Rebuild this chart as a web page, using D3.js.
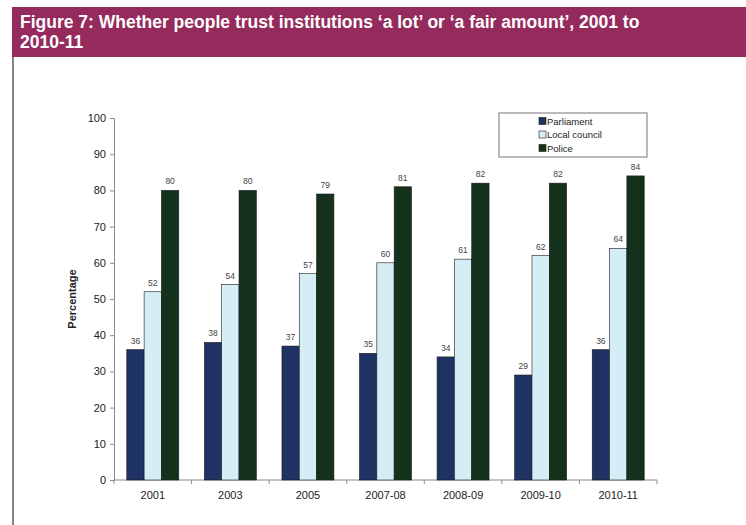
<!DOCTYPE html>
<html>
<head>
<meta charset="utf-8">
<script src="https://cdn.jsdelivr.net/npm/d3@7"></script>
<style>
  body { margin: 0; background: #fff; }
  svg { display: block; font-family: "Liberation Sans", Arial, sans-serif; }
</style>
</head>
<body>
<div id="chart"></div>
<script>
// data
const categories = ['2001', '2003', '2005', '2007-08', '2008-09', '2009-10', '2010-11'];
const seriesNames = ['Parliament', 'Local council', 'Police'];
const parliament = [36, 38, 37, 35, 34, 29, 36];
const localCouncil = [52, 54, 57, 60, 61, 62, 64];
const police = [80, 80, 79, 81, 82, 82, 84];
const yTicks = [0, 10, 20, 30, 40, 50, 60, 70, 80, 90, 100];

const seriesValues = [parliament, localCouncil, police];
const seriesColors = ['#1e3263', '#d5eef6', '#14311b'];

const W = 746, H = 525;
const margin = { left: 114, right: 89, top: 118, bottom: 45 };
const innerW = W - margin.left - margin.right;
const innerH = H - margin.top - margin.bottom;

const svg = d3.select('#chart').append('svg')
  .attr('width', W)
  .attr('height', H);

// header banner
svg.append('rect')
  .attr('x', 12).attr('y', 7)
  .attr('width', W - 12).attr('height', 50)
  .attr('fill', '#952b5d');
svg.append('line')
  .attr('x1', 13).attr('x2', 13)
  .attr('y1', 57).attr('y2', H)
  .attr('stroke', '#8c7f8c').attr('stroke-width', 2);

const title = svg.append('text')
  .attr('fill', '#fff')
  .attr('font-weight', 'bold')
  .attr('font-size', 17.5)
  .attr('textLength', null);
title.append('tspan').attr('x', 20).attr('y', 28)
  .text('Figure 7: Whether people trust institutions \u2018a lot\u2019 or \u2018a fair amount\u2019, 2001 to');
title.append('tspan').attr('x', 20).attr('y', 48).text('2010-11');

const g = svg.append('g')
  .attr('transform', `translate(${margin.left},${margin.top})`);

// scales
const x0 = d3.scaleBand()
  .domain(categories)
  .range([0, innerW])
  .paddingInner(0.33)
  .paddingOuter(0.165);

const x1 = d3.scaleBand()
  .domain(seriesNames)
  .range([0, x0.bandwidth()]);

const y = d3.scaleLinear()
  .domain([0, 100])
  .range([innerH, 0]);

// y axis
const yAxis = g.append('g')
  .call(d3.axisLeft(y).tickValues(yTicks).tickSize(4).tickPadding(4));
yAxis.select('.domain').attr('stroke', '#8a8a8a');
yAxis.selectAll('.tick line').attr('stroke', '#8a8a8a');
yAxis.selectAll('.tick text').attr('font-size', 11).attr('fill', '#222')
  .attr('font-family', '"Liberation Sans", Arial, sans-serif');

g.append('text')
  .attr('transform', `translate(-38,${innerH / 2}) rotate(-90)`)
  .attr('text-anchor', 'middle')
  .attr('font-size', 11)
  .attr('font-weight', 'bold')
  .attr('fill', '#222')
  .text('Percentage');

// x axis (ticks between groups)
const step = x0.step();
const xAxis = g.append('g').attr('transform', `translate(0,${innerH})`);
xAxis.append('line')
  .attr('x1', 0).attr('x2', innerW)
  .attr('stroke', '#8a8a8a');
const boundaries = categories.map(c => x0(c) - step * x0.paddingInner() / 2)
  .concat([innerW]);
xAxis.selectAll('.xtick')
  .data(boundaries)
  .join('line')
  .attr('class', 'xtick')
  .attr('x1', d => d).attr('x2', d => d)
  .attr('y1', 0).attr('y2', 4)
  .attr('stroke', '#8a8a8a');
xAxis.selectAll('.xlabel')
  .data(categories)
  .join('text')
  .attr('class', 'xlabel')
  .attr('x', d => x0(d) + x0.bandwidth() / 2)
  .attr('y', 19)
  .attr('text-anchor', 'middle')
  .attr('font-size', 11)
  .attr('fill', '#222')
  .text(d => d);

// bars
seriesNames.forEach((name, si) => {
  const vals = seriesValues[si];
  const sg = g.append('g');
  sg.selectAll('rect')
    .data(vals)
    .join('rect')
    .attr('x', (d, i) => x0(categories[i]) + x1(name))
    .attr('y', d => y(d))
    .attr('width', x1.bandwidth())
    .attr('height', d => innerH - y(d))
    .attr('fill', seriesColors[si])
    .attr('stroke', '#1a1a1a')
    .attr('stroke-width', 0.6);
  sg.selectAll('text')
    .data(vals)
    .join('text')
    .attr('x', (d, i) => x0(categories[i]) + x1(name) + x1.bandwidth() / 2)
    .attr('y', d => y(d) - 6)
    .attr('text-anchor', 'middle')
    .attr('font-size', 8.5)
    .attr('fill', '#444')
    .text(d => d);
});

// legend
const legend = svg.append('g').attr('transform', 'translate(499,113)');
legend.append('rect')
  .attr('width', 148).attr('height', 44)
  .attr('fill', '#fff')
  .attr('stroke', '#777');
seriesNames.forEach((name, i) => {
  const row = legend.append('g').attr('transform', `translate(40,${8 + i * 13.5})`);
  row.append('rect')
    .attr('x', 0).attr('y', -3.5)
    .attr('width', 7).attr('height', 7)
    .attr('fill', seriesColors[i])
    .attr('stroke', '#1a1a1a')
    .attr('stroke-width', 0.6);
  row.append('text')
    .attr('x', 8).attr('y', 3.5)
    .attr('font-size', 9.5)
    .attr('fill', '#222')
    .text(name);
});
</script>
</body>
</html>
